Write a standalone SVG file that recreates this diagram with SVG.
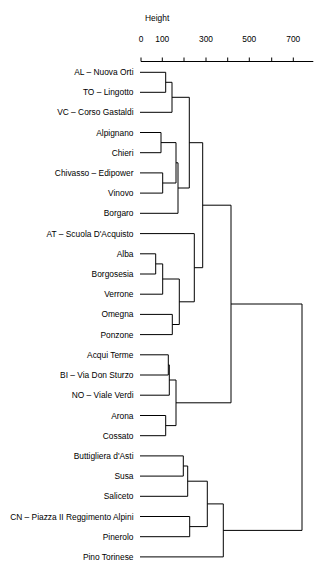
<svg xmlns="http://www.w3.org/2000/svg" width="322" height="563" viewBox="0 0 322 563">
<style>
text{font-family:"Liberation Sans",Arial,sans-serif;font-size:8.4px;fill:#000}
.lbl{text-anchor:end}
.tk{text-anchor:middle}
.c{fill:none;stroke:#000;stroke-width:1}
</style>
<rect width="322" height="563" fill="#fff"/>
<g id="axis">
<text x="145" y="20.5">Height</text>
<text class="tk" x="141" y="41.7">0</text>
<text class="tk" x="162.3" y="41.7">100</text>
<text class="tk" x="206" y="41.7">300</text>
<text class="tk" x="249.3" y="41.7">500</text>
<text class="tk" x="293.3" y="41.7">700</text>
<path class="c" d="M141 61.5H313.3M141 57.5V61.5M162.3 57.5V61.5M184 57.5V61.5M206 57.5V61.5M227.7 57.5V61.5M249.3 57.5V61.5M271.7 57.5V61.5M293.3 57.5V61.5"/>
</g>
<g id="leaves">
<g id="n-al"><text class="lbl" x="133.5" y="75.3">AL – Nuova Orti</text></g>
<g id="n-to"><text class="lbl" x="133.5" y="95.3">TO – Lingotto</text></g>
<g id="n-vc"><text class="lbl" x="133.5" y="115.3">VC – Corso Gastaldi</text></g>
<g id="n-alpignano"><text class="lbl" x="133.5" y="135.5">Alpignano</text></g>
<g id="n-chieri"><text class="lbl" x="133.5" y="155.7">Chieri</text></g>
<g id="n-chivasso"><text class="lbl" x="133.5" y="175.9">Chivasso – Edipower</text></g>
<g id="n-vinovo"><text class="lbl" x="133.5" y="196.1">Vinovo</text></g>
<g id="n-borgaro"><text class="lbl" x="133.5" y="216.3">Borgaro</text></g>
<g id="n-at"><text class="lbl" x="133.5" y="236.6">AT – Scuola D'Acquisto</text></g>
<g id="n-alba"><text class="lbl" x="133.5" y="256.8">Alba</text></g>
<g id="n-borgosesia"><text class="lbl" x="133.5" y="277">Borgosesia</text></g>
<g id="n-verrone"><text class="lbl" x="133.5" y="297.2">Verrone</text></g>
<g id="n-omegna"><text class="lbl" x="133.5" y="317.4">Omegna</text></g>
<g id="n-ponzone"><text class="lbl" x="133.5" y="337.6">Ponzone</text></g>
<g id="n-acqui"><text class="lbl" x="133.5" y="357.8">Acqui Terme</text></g>
<g id="n-bi"><text class="lbl" x="133.5" y="378">BI – Via Don Sturzo</text></g>
<g id="n-no"><text class="lbl" x="133.5" y="398.2">NO – Viale Verdi</text></g>
<g id="n-arona"><text class="lbl" x="133.5" y="418.5">Arona</text></g>
<g id="n-cossato"><text class="lbl" x="133.5" y="438.7">Cossato</text></g>
<g id="n-buttigliera"><text class="lbl" x="133.5" y="458.9">Buttigliera d'Asti</text></g>
<g id="n-susa"><text class="lbl" x="133.5" y="479.1">Susa</text></g>
<g id="n-saliceto"><text class="lbl" x="133.5" y="499.3">Saliceto</text></g>
<g id="n-cn"><text class="lbl" x="133.5" y="519.5">CN – Piazza II Reggimento Alpini</text></g>
<g id="n-pinerolo"><text class="lbl" x="133.5" y="539.7">Pinerolo</text></g>
<g id="n-pino"><text class="lbl" x="133.5" y="559.9">Pino Torinese</text></g>
</g>
<g id="connectors" class="c">
<path class="c" d="M140 72.3H165.7V92.3H140"/>
<path class="c" d="M165.7 82.3H172V112.3H140"/>
<path class="c" d="M140 132.5H161V152.7H140"/>
<path class="c" d="M140 172.9H162.7V193.1H140"/>
<path class="c" d="M161 142.6H176V183H162.7"/>
<path class="c" d="M176 162.8H178V213.3H140"/>
<path class="c" d="M172 97.3H189.3V188H178"/>
<path class="c" d="M140 253.8H155.7V274H140"/>
<path class="c" d="M155.7 263.9H162.7V294.2H140"/>
<path class="c" d="M140 314.4H172.3V334.6H140"/>
<path class="c" d="M162.7 279H179.3V324.5H172.3"/>
<path class="c" d="M140 233.6H194.3V301.8H179.3"/>
<path class="c" d="M189.3 142.7H202.7V267.7H194.3"/>
<path class="c" d="M140 354.8H168.3V375H140"/>
<path class="c" d="M168.3 364.9H169.3V395.2H140"/>
<path class="c" d="M140 415.5H165.7V435.7H140"/>
<path class="c" d="M169.3 380H176V425.6H165.7"/>
<path class="c" d="M202.7 205.2H231V402.8H176"/>
<path class="c" d="M140 455.9H183.3V476.1H140"/>
<path class="c" d="M183.3 466H187.7V496.3H140"/>
<path class="c" d="M140 516.5H189.7V536.7H140"/>
<path class="c" d="M187.7 481.2H207.3V526.6H189.7"/>
<path class="c" d="M207.3 503.9H223.3V556.9H140"/>
<path class="c" d="M231 304H302V530.4H223.3"/>
</g>
</svg>
